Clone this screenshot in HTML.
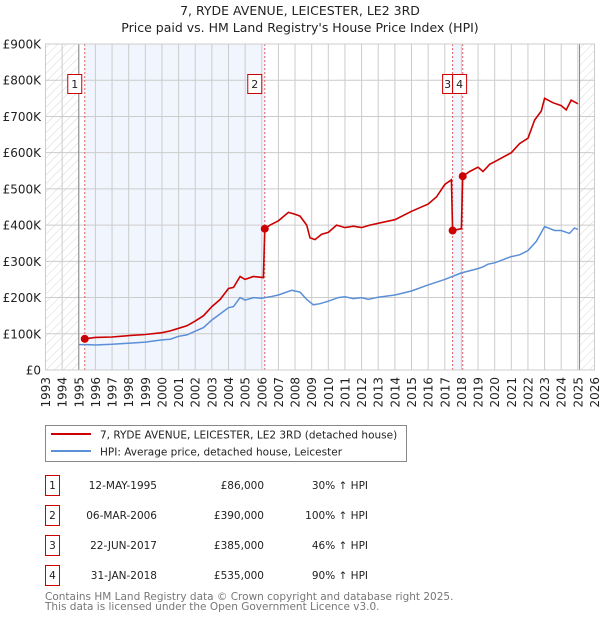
<!DOCTYPE html>
<html><head><meta charset="utf-8">
<style>
body{margin:0;background:#fff;font-family:"DejaVu Sans","Liberation Sans",sans-serif;}
svg text{font-family:"DejaVu Sans","Liberation Sans",sans-serif;}
</style></head>
<body>
<svg id="chart" width="600" height="620" viewBox="0 0 600 620">
<defs>
<pattern id="hatch" width="6" height="6" patternUnits="userSpaceOnUse" patternTransform="rotate(45)">
<line x1="0" y1="0" x2="0" y2="6" stroke="#ccc" stroke-width="0.8"/>
</pattern>
</defs>
<text x="300" y="15" text-anchor="middle" font-size="12.5" fill="#222">7, RYDE AVENUE, LEICESTER, LE2 3RD</text>
<text x="300" y="32" text-anchor="middle" font-size="12.5" fill="#222">Price paid vs. HM Land Registry's House Price Index (HPI)</text>
<g id="plot"></g>
<g>
<rect x="45.5" y="425.5" width="361" height="36" fill="#fff" stroke="#888"/>
<line x1="51" y1="434" x2="91" y2="434" stroke="#cc0000" stroke-width="2"/>
<text x="100" y="438.5" font-size="10.5" fill="#222">7, RYDE AVENUE, LEICESTER, LE2 3RD (detached house)</text>
<line x1="51" y1="451" x2="91" y2="451" stroke="#5b8fd6" stroke-width="2"/>
<text x="100" y="455.5" font-size="10.5" fill="#222">HPI: Average price, detached house, Leicester</text>
</g>
<g id="table" font-size="10.5" fill="#222"></g>
<text x="45" y="600" font-size="10.5" fill="#777">Contains HM Land Registry data © Crown copyright and database right 2025.</text>
<text x="45" y="610" font-size="10.5" fill="#777">This data is licensed under the Open Government Licence v3.0.</text>
</svg>
<script>
const hpiYears=[1995.0,1995.5,1996,1997,1998,1999,2000,2000.5,2001,2001.5,2002,2002.5,2003,2003.5,2004,2004.3,2004.7,2005,2005.5,2006,2006.5,2007,2007.8,2008.3,2008.7,2009.1,2009.5,2010,2010.6,2011,2011.5,2012,2012.4,2013,2014,2015,2016,2017,2018,2019,2019.3,2019.6,2020,2021,2021.5,2022,2022.5,2023,2023.6,2024,2024.5,2024.8,2025.0];
const hpiValues=[70,70,69,71,74,77,83,85,93,97,107,117,138,155,172,175,200,193,200,198,202,207,220,215,195,180,183,190,200,202,197,200,195,201,207,218,235,250,268,280,285,292,296,313,318,330,355,396,385,385,377,392,388];
const redYears=[1995.36,1996,1997,1998,1999,2000,2000.5,2001,2001.5,2002,2002.5,2003,2003.5,2004,2004.3,2004.7,2005,2005.5,2006.1,2006.18,2006.5,2007,2007.6,2008,2008.3,2008.7,2008.9,2009.2,2009.6,2010,2010.5,2011,2011.5,2012,2012.5,2013,2014,2015,2016,2016.5,2017,2017.4,2017.47,2018.0,2018.08,2018.5,2019,2019.3,2019.7,2020,2021,2021.5,2022,2022.4,2022.8,2023,2023.5,2024,2024.3,2024.6,2025];
const redValues=[86,90,91,95,98,103,108,115,122,135,150,175,195,225,228,258,250,258,255,390,400,412,435,430,425,400,365,360,375,380,400,393,397,393,400,405,415,438,458,478,512,525,385,390,535,548,560,548,568,575,600,625,640,690,715,750,738,730,718,745,735];
const saleLabels=["1","2","3","4"];
const saleYears=[1995.36,2006.18,2017.47,2018.08];
const saleValues=[86,390,385,535];
const saleDates=["12-MAY-1995","06-MAR-2006","22-JUN-2017","31-JAN-2018"];
const salePrices=["£86,000","£390,000","£385,000","£535,000"];
const saleHpi=["30% ↑ HPI","100% ↑ HPI","46% ↑ HPI","90% ↑ HPI"];
const yTicks=[0,100,200,300,400,500,600,700,800,900];
const yTickLabels=["£0","£100K","£200K","£300K","£400K","£500K","£600K","£700K","£800K","£900K"];
const xStart=1993,xEnd=2026,dataStart=1995,dataEnd=2025.1;

const NS="http://www.w3.org/2000/svg";
const L=45.5,R=594.5,T=44,B=370;
const xs=y=>L+(y-xStart)/(xEnd-xStart)*(R-L);
const ys=v=>B-v/900*(B-T);
const plot=document.getElementById('plot');
function mk(tag,attrs,parent){const e=document.createElementNS(NS,tag);for(const k in attrs)e.setAttribute(k,attrs[k]);(parent||plot).appendChild(e);return e;}

let e;
e=mk('rect',{x:L,y:T,width:R-L,height:B-T,fill:'#fff'});


for(const [a,b] of [[0,1],[2,3]]){
 e=mk('rect',{x:xs(saleYears[a]),y:T,width:xs(saleYears[b])-xs(saleYears[a]),height:B-T,fill:'#eef3fc',opacity:0.8});
 
 
}
e=mk('rect',{x:L,y:T,width:xs(dataStart)-L,height:B-T,fill:'url(#hatch)'});


e=mk('rect',{x:xs(dataEnd),y:T,width:R-xs(dataEnd),height:B-T,fill:'url(#hatch)'});


for(let i=0;i<yTicks.length;i++){
 const y=ys(yTicks[i]);
 e=mk('line',{x1:L,x2:R,y1:y,y2:y,stroke:'#ccc','stroke-width':1});
 
 
 e=mk('text',{x:41,y:y+4.5,'text-anchor':'end','font-size':12,fill:'#222'});
 e.textContent=yTickLabels[i];
 
 
}
for(let yr=xStart;yr<=xEnd;yr++){
 const x=xs(yr);
 e=mk('line',{x1:x,x2:x,y1:T,y2:B,stroke:'#ccc','stroke-width':1});
 
 
 e=mk('text',{x:0,y:0,'text-anchor':'end','font-size':12,fill:'#222',transform:`translate(${x+4.5},377) rotate(-90)`});
 e.textContent=yr;
 
 
}
e=mk('line',{x1:xs(dataStart),x2:xs(dataStart),y1:T,y2:B,stroke:'#888','stroke-width':1});


e=mk('line',{x1:xs(dataEnd),x2:xs(dataEnd),y1:T,y2:B,stroke:'#888','stroke-width':1});


for(let i=0;i<saleYears.length;i++){
 const x=xs(saleYears[i]);
 e=mk('line',{x1:x,x2:x,y1:T,y2:B,stroke:'#e06060','stroke-width':1,'stroke-dasharray':'2,2'});
 
 
}
const path=(xa,va)=>xa.map((y,i)=>(i?'L':'M')+xs(y).toFixed(1)+','+ys(va[i]).toFixed(1)).join('');
e=mk('path',{d:path(hpiYears,hpiValues),fill:'none',stroke:'#5b8fd6','stroke-width':1.5});


e=mk('path',{d:path(redYears,redValues),fill:'none',stroke:'#cc0000','stroke-width':1.6});


for(let i=0;i<saleYears.length;i++){
 e=mk('circle',{cx:xs(saleYears[i]),cy:ys(saleValues[i]),r:4,fill:'#cc0000'});
 
 
}
for(let i=0;i<saleYears.length;i++){
 let w=14,x0;
 if(i<2){x0=xs(saleYears[i])-w-3;}
 else if(i==2){w=10;x0=xs(saleYears[2])-10;}
 else {x0=xs(saleYears[2]);}
 e=mk('rect',{x:x0,y:74.5,width:w,height:19,fill:'#fff',stroke:'#cc0000','stroke-width':1});
 
 
 e=mk('text',{x:x0+w/2,y:88,'text-anchor':'middle','font-size':11,fill:'#222'});
 e.textContent=saleLabels[i];
 
 
}
e=mk('rect',{x:L,y:T,width:R-L,height:B-T,fill:'none',stroke:'#ccc'});


const tb=document.getElementById('table');
for(let i=0;i<saleLabels.length;i++){
 const y=483+i*30;
 e=mk('rect',{x:45.5,y:y-7.5,width:14,height:20,fill:'#fff',stroke:'#cc0000'},tb);
 
 
 e=mk('text',{x:52.5,y:y+6,'text-anchor':'middle'},tb);e.textContent=saleLabels[i];
 
 
 e=mk('text',{x:157,y:y+6,'text-anchor':'end'},tb);e.textContent=saleDates[i];
 
 
 e=mk('text',{x:264,y:y+6,'text-anchor':'end'},tb);e.textContent=salePrices[i];
 
 
 e=mk('text',{x:368,y:y+6,'text-anchor':'end'},tb);e.textContent=saleHpi[i];
 
 
}
</script>
</body></html>
